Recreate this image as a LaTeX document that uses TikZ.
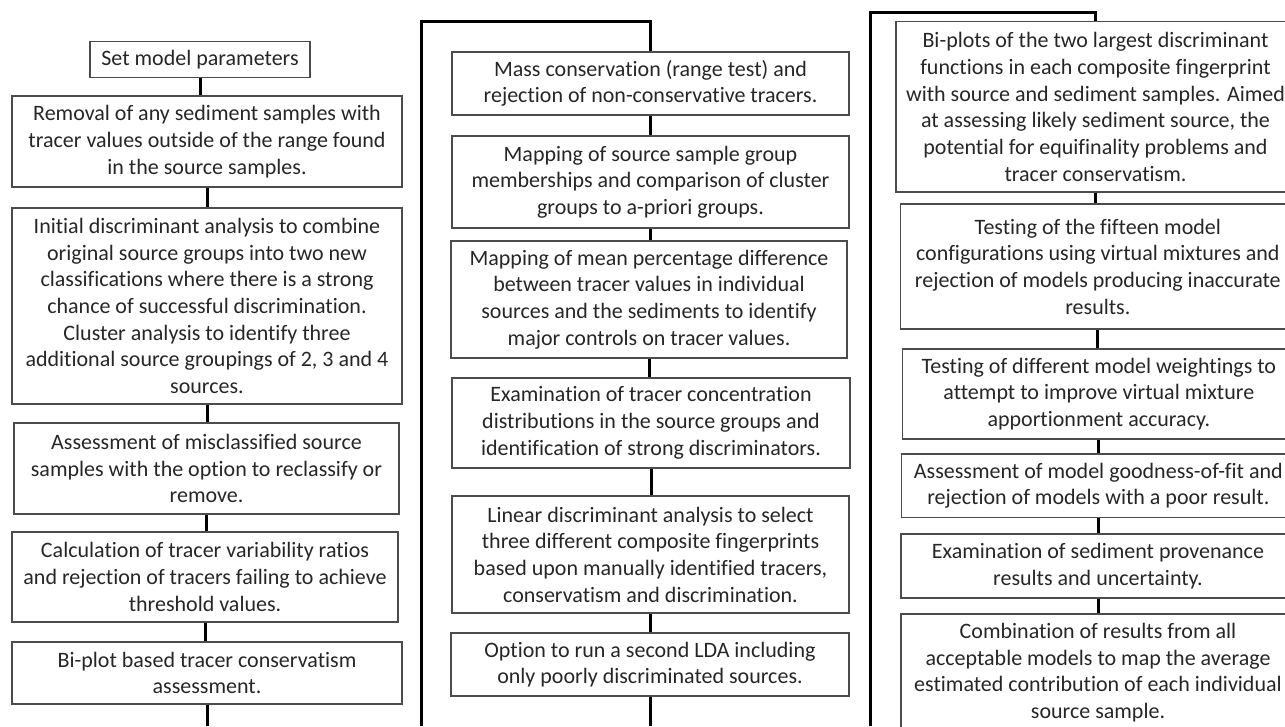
\documentclass[tikz,border=0pt]{standalone}
\usepackage{fontspec}
\setmainfont{Carlito}[Ligatures={NoCommon}]
\usetikzlibrary{calc}

\begin{document}
\begin{tikzpicture}[x=1pt, y=-1pt, font=\fontsize{22}{26.7}\selectfont,
	etapa/.style={draw=black!70, line width=1.4pt, text=black!85, align=center, inner sep=0pt, anchor=center},
	ligacao/.style={line width=3pt, black}]

	\def \largura{1285}
	\def \altura{726}

	\useasboundingbox (0,0) rectangle (\largura,\altura);

	\coordinate (chao) at (0,\altura);

	% first column
	\node[etapa, minimum width=220, minimum height=36] (setParams) at (200,59.7) {Set model parameters};
	\node[etapa, minimum width=390, minimum height=91] (removal) at (207,141.5) {Removal of any sediment samples with\\tracer values outside of the range found\\in the source samples.};
	\node[etapa, minimum width=390, minimum height=196] (initialDA) at (207,306) {Initial discriminant analysis to combine\\original source groups into two new\\classifications where there is a strong\\chance of successful discrimination.\\Cluster analysis to identify three\\additional source groupings of 2, 3 and 4\\sources.};
	\node[etapa, minimum width=385, minimum height=91] (misclass) at (206.5,468.5) {Assessment of misclassified source\\samples with the option to reclassify or\\remove.};
	\node[etapa, minimum width=386, minimum height=90] (varRatios) at (205,577) {Calculation of tracer variability ratios\\and rejection of tracers failing to achieve\\threshold values.};
	\node[etapa, minimum width=390, minimum height=62] (biplotCons) at (207,673) {Bi-plot based tracer conservatism\\assessment.};

	% second column
	\node[etapa, minimum width=397, minimum height=63] (massCons) at (650.5,83.3) {Mass conservation (range test) and\\rejection of non-conservative tracers.};
	\node[etapa, minimum width=397, minimum height=92] (mapGroups) at (650.5,182) {Mapping of source sample group\\memberships and comparison of cluster\\groups to a-priori groups.};
	\node[etapa, minimum width=396, minimum height=117] (mapDiff) at (649,299.5) {Mapping of mean percentage difference\\between tracer values in individual\\sources and the sediments to identify\\major controls on tracer values.};
	\node[etapa, minimum width=398, minimum height=90] (examDist) at (651,423) {Examination of tracer concentration\\distributions in the source groups and\\identification of strong discriminators.};
	\node[etapa, minimum width=397, minimum height=117] (linearDA) at (650.5,554.5) {Linear discriminant analysis to select\\three different composite fingerprints\\based upon manually identified tracers,\\conservatism and discrimination.};
	\node[etapa, minimum width=398, minimum height=63] (secondLDA) at (650,664.5) {Option to run a second LDA including\\only poorly discriminated sources.};

	% third column
	\node[etapa, minimum width=399, minimum height=170.3] (biplotsDF) at (1095.5,106.85) {Bi-plots of the two largest discriminant\\functions in each composite fingerprint\\with source and sediment samples. Aimed\\at assessing likely sediment source, the\\potential for equifinality problems and\\tracer conservatism.};
	\node[etapa, minimum width=394.3, minimum height=125] (testConfig) at (1097.85,266.5) {Testing of the fifteen model\\configurations using virtual mixtures and\\rejection of models producing inaccurate\\results.};
	\node[etapa, minimum width=392.3, minimum height=90] (testWeight) at (1098.85,394) {Testing of different model weightings to\\attempt to improve virtual mixture\\apportionment accuracy.};
	\node[etapa, minimum width=393.3, minimum height=63.7] (goodFit) at (1098.35,485.85) {Assessment of model goodness-of-fit and\\rejection of models with a poor result.};
	\node[etapa, minimum width=394, minimum height=64] (examProv) at (1098,566) {Examination of sediment provenance\\results and uncertainty.};
	\node[etapa, minimum width=394, minimum height=117] (combResults) at (1098,672.5) {Combination of results from all\\acceptable models to map the average\\estimated contribution of each individual\\source sample.};

	% links inside the columns
	\foreach \a/\b in {setParams/removal, removal/initialDA, initialDA/misclass, misclass/varRatios, varRatios/biplotCons,
		massCons/mapGroups, mapGroups/mapDiff, mapDiff/examDist, examDist/linearDA, linearDA/secondLDA,
		biplotsDF/testConfig, testConfig/testWeight, testWeight/goodFit, goodFit/examProv, examProv/combResults}
		\draw[ligacao] (\a.south) -- (\a.south |- \b.north);

	% links between the columns
	\coordinate (baseB) at (421.7,\altura);
	\coordinate (topoB) at (421.7,21.7);
	\coordinate (baseC) at (870,\altura);
	\coordinate (topoC) at (870,12.7);

	\draw[ligacao] (biplotCons.south) -- (biplotCons.south |- chao);
	\draw[ligacao] (secondLDA.south) -- (secondLDA.south |- chao);
	\draw[ligacao] (baseB) -- (topoB) -| (massCons.north);
	\draw[ligacao] (baseC) -- (topoC) -| (biplotsDF.north);

\end{tikzpicture}
\end{document}
